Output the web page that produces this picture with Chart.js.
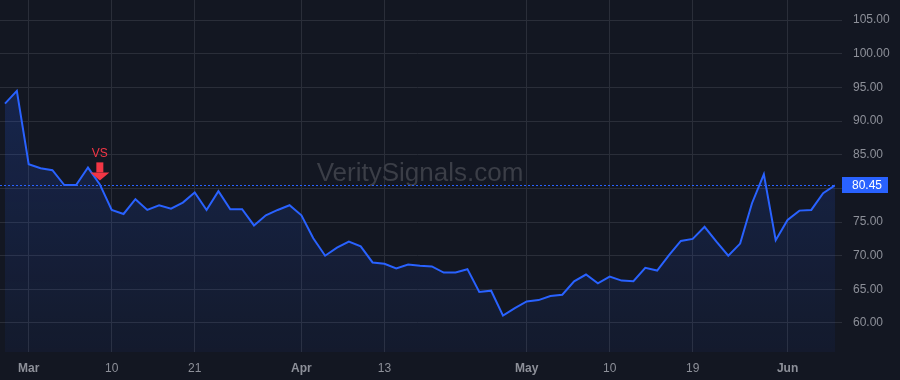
<!DOCTYPE html>
<html>
<head>
<meta charset="utf-8">
<script src="https://cdn.jsdelivr.net/npm/chart.js@4.4.1/dist/chart.umd.min.js"></script>
<style>
  html, body { margin: 0; padding: 0; background: #131722; }
  #wrap { width: 900px; height: 380px; position: relative; }
</style>
</head>
<body>
<div id="wrap"><canvas id="chart"></canvas></div>
<script>
// daily closes
const prices = [
  92.6, 94.5, 83.6, 83.0, 82.7, 80.5, 80.5, 83.1, 80.6, 76.8,
  76.2, 78.4, 76.8, 77.5, 77.0, 77.9, 79.4, 76.8, 79.6, 76.9,
  76.9, 74.5, 76.0, 76.8, 77.5, 76.0, 72.6, 70.0, 71.2, 72.1,
  71.4, 69.0, 68.8, 68.1, 68.7, 68.5, 68.4, 67.5, 67.5, 68.0,
  64.6, 64.8, 61.1, 62.2, 63.2, 63.4, 64.0, 64.2, 66.2, 67.2,
  65.9, 66.9, 66.3, 66.2, 68.2, 67.8, 70.1, 72.2, 72.5, 74.3,
  72.1, 70.0, 71.8, 77.8, 82.1, 72.3, 75.3, 76.7, 76.8, 79.3,
  80.45,
]
const tickIndex = [2, 9, 16, 25, 32, 44, 51, 58, 66]
const tickLabels = ['Mar', '10', '21', 'Apr', '13', 'May', '10', '19', 'Jun']
const monthLabels = ['Mar', 'Apr', 'May', 'Jun']
const yTicks = [60, 65, 70, 75, 80, 85, 90, 95, 100, 105]
const lastPrice = 80.45
const signalIndex = 8
const signalLabel = 'VS'
const watermark = 'VeritySignals.com'

const FONT = '"Liberation Sans", Arial, sans-serif'
const BLUE = '#2962ff'
const RED = '#f23645'

const watermarkPlugin = {
  id: 'watermark',
  beforeDatasetsDraw(chart) {
    const { ctx, chartArea } = chart
    ctx.save()
    ctx.font = '26px ' + FONT
    ctx.fillStyle = '#3b3e47'
    ctx.textAlign = 'center'
    ctx.textBaseline = 'alphabetic'
    ctx.fillText(watermark, chartArea.left + 420, 181)
    ctx.restore()
  },
}

const priceLinePlugin = {
  id: 'priceLine',
  afterDatasetsDraw(chart) {
    const { ctx, chartArea, scales } = chart
    const y = Math.round(scales.y.getPixelForValue(lastPrice)) + 0.5
    ctx.save()
    ctx.strokeStyle = BLUE
    ctx.lineWidth = 1
    ctx.setLineDash([2, 2])
    ctx.beginPath()
    ctx.moveTo(chartArea.left, y)
    ctx.lineTo(chartArea.right, y)
    ctx.stroke()
    ctx.restore()

    // signal marker
    const x = scales.x.getPixelForValue(signalIndex)
    const py = scales.y.getPixelForValue(prices[signalIndex])
    ctx.save()
    ctx.fillStyle = RED
    ctx.font = '12px ' + FONT
    ctx.textAlign = 'center'
    ctx.textBaseline = 'alphabetic'
    ctx.fillText(signalLabel, x, py - 27)
    ctx.fillRect(x - 3.5, py - 22, 7, 10)
    ctx.beginPath()
    ctx.moveTo(x - 9.5, py - 12)
    ctx.lineTo(x + 9.5, py - 12)
    ctx.lineTo(x, py - 4)
    ctx.closePath()
    ctx.fill()
    ctx.restore()
  },
  afterDraw(chart) {
    const { ctx, chartArea, scales } = chart
    const y = scales.y.getPixelForValue(lastPrice)
    ctx.save()
    ctx.fillStyle = BLUE
    ctx.fillRect(chartArea.right + 7, Math.round(y) - 8, 46, 16)
    ctx.fillStyle = '#ffffff'
    ctx.font = '12px ' + FONT
    ctx.textAlign = 'left'
    ctx.textBaseline = 'middle'
    ctx.fillText(lastPrice.toFixed(2), chartArea.right + 17, Math.round(y) + 0.5)
    ctx.restore()
  },
}

new Chart(document.getElementById('chart'), {
  type: 'line',
  data: {
    datasets: [
      {
        data: prices.map((v, i) => ({ x: i, y: v })),
        borderColor: BLUE,
        borderWidth: 2,
        pointRadius: 0,
        tension: 0,
        fill: 'start',
        backgroundColor(context) {
          const { ctx, chartArea } = context.chart
          if (!chartArea) return 'rgba(41,98,255,0.15)'
          const g = ctx.createLinearGradient(0, chartArea.top, 0, chartArea.bottom)
          g.addColorStop(0, 'rgba(41,98,255,0.24)')
          g.addColorStop(1, 'rgba(41,98,255,0.05)')
          return g
        },
      },
    ],
  },
  options: {
    responsive: true,
    maintainAspectRatio: false,
    animation: false,
    layout: { padding: 0, autoPadding: false },
    plugins: { legend: { display: false }, tooltip: { enabled: false } },
    scales: {
      x: {
        type: 'linear',
        min: -0.42,
        max: 70,
        afterBuildTicks(scale) {
          scale.ticks = tickIndex.map((v) => ({ value: v }))
        },
        afterFit(scale) {
          scale.height = 28
          scale.paddingLeft = 0
          scale.paddingRight = 0
        },
        grid: { color: '#2a2e39', drawTicks: false },
        border: { display: false },
        ticks: {
          autoSkip: false,
          maxRotation: 0,
          padding: 9,
          color: '#8d9099',
          font(ctx) {
            const label = tickLabels[ctx.index]
            return { family: FONT, size: 12, weight: monthLabels.includes(label) ? 'bold' : 'normal' }
          },
          callback: (value, index) => tickLabels[index],
        },
      },
      y: {
        position: 'right',
        min: 55.69,
        max: 108,
        afterBuildTicks(scale) {
          scale.ticks = yTicks.map((v) => ({ value: v }))
        },
        afterFit(scale) {
          scale.width = 65
          scale.paddingTop = 0
          scale.paddingBottom = 0
        },
        grid: { color: '#2a2e39', tickLength: 7 },
        border: { display: false },
        ticks: {
          padding: 11,
          color: '#8d9099',
          font: { family: FONT, size: 12 },
          callback: (value) => (Math.abs(value - lastPrice) < 2 ? '' : value.toFixed(2)),
        },
      },
    },
  },
  plugins: [watermarkPlugin, priceLinePlugin],
})
</script>
</body>
</html>
